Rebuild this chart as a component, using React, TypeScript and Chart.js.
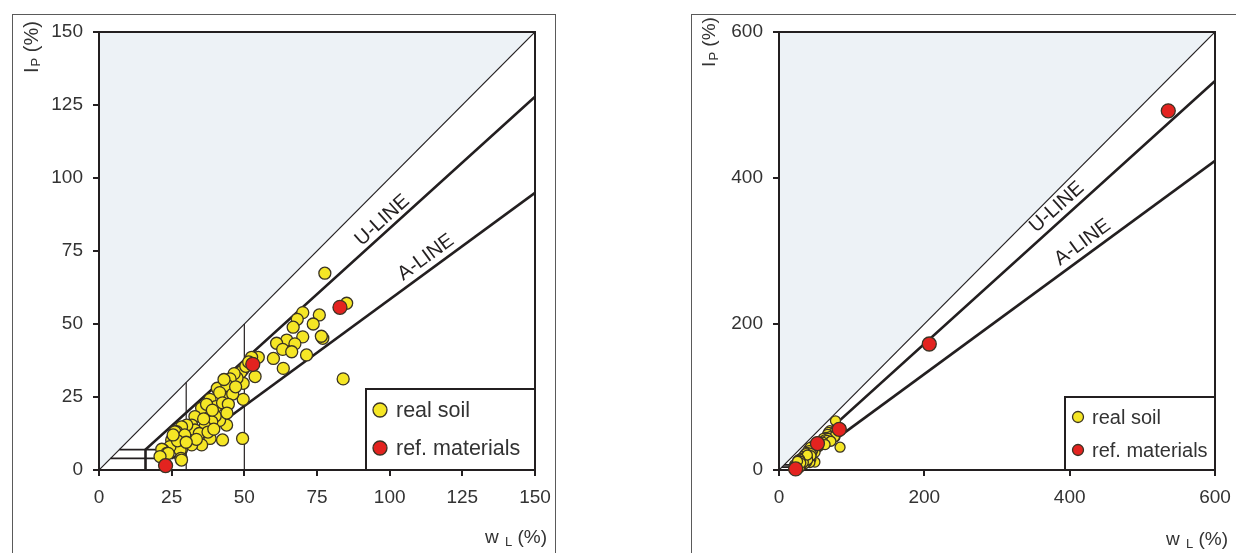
import React, { useEffect, useRef } from "react";
import { Chart, registerables } from "chart.js";

Chart.register(...registerables);

type Pt = [number, number];

// Liquid limit w_L (%) and plasticity index I_P (%) of the tested soils
const realSoil: Pt[] = [
  [77.7, 67.4], [85.2, 57.1], [70.1, 53.9], [75.8, 53.1], [68.2, 51.6], [73.7, 50.0],
  [66.8, 48.9], [70.1, 45.6], [77.0, 45.1], [76.5, 45.8], [64.6, 44.5], [61.1, 43.4],
  [67.4, 43.2], [63.2, 41.3], [66.3, 40.5], [71.4, 39.4], [60.0, 38.2], [63.4, 34.8],
  [84.0, 31.2],
  [54.8, 38.6], [52.5, 38.6], [53.7, 32.0], [49.4, 34.2], [48.8, 33.5], [50.5, 35.5],
  [51.5, 37.0], [49.6, 29.7], [49.6, 24.2], [49.4, 10.8], [47.5, 31.5], [46.5, 33.0],
  [45.1, 31.2], [45.1, 27.4], [40.7, 28.0], [42.8, 25.1], [44.0, 29.0], [46.0, 26.0],
  [47.0, 28.5], [43.0, 31.0], [41.5, 26.5], [38.2, 24.2], [40.2, 21.7], [42.5, 23.0],
  [44.5, 22.5], [43.9, 15.4], [42.5, 10.3], [41.5, 17.0], [40.0, 18.5], [44.0, 19.5],
  [35.6, 19.4], [35.3, 21.2], [37.0, 22.5], [38.8, 16.5], [36.5, 14.8], [38.2, 10.8],
  [35.3, 8.6], [33.0, 18.3], [31.9, 15.4], [33.0, 13.7], [34.5, 12.5], [31.9, 8.6],
  [30.2, 15.4], [36.0, 17.5], [37.5, 13.0], [39.5, 14.0], [33.5, 10.5], [39.0, 20.5],
  [28.4, 14.8], [26.7, 13.1], [26.1, 13.1], [28.4, 7.1], [27.9, 6.8], [28.2, 4.0],
  [28.4, 3.4], [25.0, 10.3], [24.4, 8.0], [22.1, 6.8], [21.6, 7.1], [23.3, 5.7],
  [23.8, 5.7], [21.0, 4.6], [29.5, 12.0], [27.0, 10.0], [30.0, 9.5], [25.5, 12.0],
];

// Reference materials
const refMaterials: Pt[] = [
  [22.9, 1.5], [52.9, 36.2], [82.9, 55.7], [206.8, 172.6], [535.7, 492.0],
];

const ticksLeft = [0, 25, 50, 75, 100, 125, 150];
const ticksRight = [0, 200, 400, 600];

// Classification lines (end points)
const equalLineLeft: Pt[] = [[0, 0], [150, 150]];
const equalLineRight: Pt[] = [[0, 0], [600, 600]];
const uLineLeft: Pt[] = [[16, 0], [16, 7], [150, 127.8]];
const uLineRight: Pt[] = [[16, 0], [16, 7], [600, 532.8]];
const aLineLeft: Pt[] = [[25.5, 4], [150, 94.9]];
const aLineRight: Pt[] = [[25.5, 4], [600, 423.4]];
const ip7Line: Pt[] = [[7, 7], [29.6, 7]];
const ip4Line: Pt[] = [[4, 4], [25.5, 4]];
const wl30Line: Pt[] = [[30, 0], [30, 30]];
const wl50Line: Pt[] = [[50, 0], [50, 50]];

const INK = "#231f20";
const TEXT = "#333333";
const YELLOW = "#f5e625";
const RED = "#e3231f";
const OUTLINE = "#3a3324";
const SHADE = "#edf2f6";
const FONT = "'Liberation Sans', Arial, Helvetica, sans-serif";

interface LineLabel { text: string; line: Pt[]; at: number; offset: number; size: number }
interface PanelSpec {
  max: number;
  ticks: number[];
  equal: Pt[];
  uLine: Pt[];
  aLine: Pt[];
  mediumGuides: Pt[][];
  thinGuides: Pt[][];
  soilRadius: number;
  refRadius: number;
  plotLeft: number;
  padRight: number;
  yTitle: { x: number; y: number; size: number };
  xTitle: { right: number; y: number; size: number };
  legend: { w: number; h: number; mx: number; my1: number; my2: number; tx: number; size: number; r: number };
  labels: LineLabel[];
}

const leftSpec: PanelSpec = {
  max: 150,
  ticks: ticksLeft,
  equal: equalLineLeft,
  uLine: uLineLeft,
  aLine: aLineLeft,
  mediumGuides: [ip7Line, ip4Line],
  thinGuides: [wl30Line, wl50Line],
  soilRadius: 6,
  refRadius: 7,
  plotLeft: 86,
  padRight: 20,
  yTitle: { x: 19, y: 32, size: 20 },
  xTitle: { right: 534, y: 523, size: 19 },
  legend: { w: 169, h: 81, mx: 14, my1: 21, my2: 59, tx: 30, size: 21.5, r: 7 },
  labels: [
    { text: "U-LINE", line: uLineLeft, at: 100, offset: 11, size: 20 },
    { text: "A-LINE", line: aLineLeft, at: 115, offset: 12.5, size: 20 },
  ],
};

const rightSpec: PanelSpec = {
  max: 600,
  ticks: ticksRight,
  equal: equalLineRight,
  uLine: uLineRight,
  aLine: aLineRight,
  mediumGuides: [ip7Line, ip4Line],
  thinGuides: [],
  soilRadius: 5,
  refRadius: 7,
  plotLeft: 87,
  padRight: 21,
  yTitle: { x: 18, y: 27, size: 19 },
  xTitle: { right: 536, y: 525, size: 19 },
  legend: { w: 150, h: 73, mx: 13, my1: 20, my2: 53, tx: 27, size: 20, r: 5.5 },
  labels: [
    { text: "U-LINE", line: uLineRight, at: 394, offset: 12.5, size: 20 },
    { text: "A-LINE", line: aLineRight, at: 428, offset: 12.5, size: 20 },
  ],
};

const toXY = (pts: Pt[]) => pts.map(([x, y]) => ({ x, y }));

function drawSubscripted(
  ctx: CanvasRenderingContext2D,
  base: string,
  sub: string,
  rest: string,
  size: number,
  startX: number,
  y: number
) {
  const subSize = Math.round(size * 0.66);
  ctx.font = `${size}px ${FONT}`;
  const wBase = ctx.measureText(base).width;
  ctx.fillText(base, startX, y);
  ctx.font = `${subSize}px ${FONT}`;
  const wSub = ctx.measureText(sub).width;
  ctx.fillText(sub, startX + wBase + 1, y + size * 0.22);
  ctx.font = `${size}px ${FONT}`;
  ctx.fillText(rest, startX + wBase + 1 + wSub, y);
}

function measureSubscripted(ctx: CanvasRenderingContext2D, base: string, sub: string, rest: string, size: number) {
  const subSize = Math.round(size * 0.66);
  ctx.font = `${size}px ${FONT}`;
  const a = ctx.measureText(base).width + ctx.measureText(rest).width;
  ctx.font = `${subSize}px ${FONT}`;
  return a + 1 + ctx.measureText(sub).width;
}

function buildConfig(spec: PanelSpec): any {
  const lineSet = (label: string, pts: Pt[], width: number, extra: any = {}) => ({
    label,
    data: toXY(pts),
    showLine: true,
    borderColor: INK,
    borderWidth: width,
    pointRadius: 0,
    pointHoverRadius: 0,
    tension: 0,
    fill: false,
    ...extra,
  });

  const datasets: any[] = [
    {
      label: "ref. materials",
      data: toXY(refMaterials.filter(([x, y]) => x <= spec.max && y <= spec.max)),
      backgroundColor: RED,
      borderColor: OUTLINE,
      borderWidth: 1.3,
      pointRadius: spec.refRadius,
      clip: false,
    },
    {
      label: "real soil",
      data: toXY(realSoil.filter(([x, y]) => x <= spec.max && y <= spec.max)),
      backgroundColor: YELLOW,
      borderColor: OUTLINE,
      borderWidth: 1.3,
      pointRadius: spec.soilRadius,
      clip: false,
    },
    lineSet("U-LINE", spec.uLine, 2.6),
    lineSet("A-LINE", spec.aLine, 2.6),
    ...spec.mediumGuides.map((g, i) => lineSet(`guide-m${i}`, g, 1.8)),
    ...spec.thinGuides.map((g, i) => lineSet(`guide-t${i}`, g, 1.2)),
    lineSet("wL = IP", spec.equal, 1.2, { fill: "end", backgroundColor: SHADE }),
  ];

  const tickFont = { family: FONT, size: 19 };

  const panelPlugin = {
    id: "panelDecor",
    beforeDatasetsDraw(chart: any) {
      const { ctx, chartArea: a } = chart;
      ctx.save();
      ctx.strokeStyle = INK;
      ctx.lineWidth = 2;
      ctx.beginPath();
      ctx.moveTo(a.left, a.top);
      ctx.lineTo(a.right, a.top);
      ctx.lineTo(a.right, a.bottom);
      ctx.stroke();
      ctx.restore();
    },
    afterDatasetsDraw(chart: any) {
      const { ctx, chartArea: a } = chart;
      const L = spec.legend;
      const x0 = a.right - L.w;
      const y0 = a.bottom - L.h;
      ctx.save();
      ctx.fillStyle = "#ffffff";
      ctx.fillRect(x0, y0, L.w, L.h);
      ctx.strokeStyle = INK;
      ctx.lineWidth = 2;
      ctx.strokeRect(x0, y0, L.w, L.h);
      const entries = ["real soil", "ref. materials"].map((lbl) =>
        chart.data.datasets.find((d: any) => d.label === lbl)
      );
      entries.forEach((ds: any, i: number) => {
        const cy = y0 + (i === 0 ? L.my1 : L.my2);
        ctx.beginPath();
        ctx.arc(x0 + L.mx, cy, L.r, 0, Math.PI * 2);
        ctx.fillStyle = ds.backgroundColor;
        ctx.fill();
        ctx.lineWidth = 1.3;
        ctx.strokeStyle = OUTLINE;
        ctx.stroke();
        ctx.fillStyle = TEXT;
        ctx.font = `${L.size}px ${FONT}`;
        ctx.textAlign = "left";
        ctx.textBaseline = "middle";
        ctx.fillText(ds.label, x0 + L.tx, cy + 1);
      });
      ctx.restore();
    },
    afterDraw(chart: any) {
      const { ctx } = chart;
      const xs = chart.scales.x;
      const ys = chart.scales.y;
      ctx.save();
      ctx.fillStyle = TEXT;
      ctx.textBaseline = "middle";
      ctx.textAlign = "left";

      // vertical axis title, I_P (%)
      const yt = spec.yTitle;
      const wY = measureSubscripted(ctx, "I", "P", " (%)", yt.size);
      ctx.save();
      ctx.translate(yt.x, yt.y);
      ctx.rotate(-Math.PI / 2);
      drawSubscripted(ctx, "I", "P", " (%)", yt.size, -wY / 2, 0);
      ctx.restore();

      // horizontal axis title, w_L (%)
      const xt = spec.xTitle;
      const wX = measureSubscripted(ctx, "w ", "L", " (%)", xt.size);
      drawSubscripted(ctx, "w ", "L", " (%)", xt.size, xt.right - wX, xt.y);

      // line names written along the lines
      ctx.fillStyle = INK;
      spec.labels.forEach((lab) => {
        const pts = lab.line;
        for (let i = 0; i < pts.length - 1; i++) {
          const [x0, y0] = pts[i];
          const [x1, y1] = pts[i + 1];
          if (x1 === x0 || lab.at < x0 || lab.at > x1) continue;
          const yAt = y0 + ((y1 - y0) * (lab.at - x0)) / (x1 - x0);
          const ang = Math.atan2(
            ys.getPixelForValue(y1) - ys.getPixelForValue(y0),
            xs.getPixelForValue(x1) - xs.getPixelForValue(x0)
          );
          const px = xs.getPixelForValue(lab.at) + Math.sin(ang) * lab.offset;
          const py = ys.getPixelForValue(yAt) - Math.cos(ang) * lab.offset;
          ctx.save();
          ctx.translate(px, py);
          ctx.rotate(ang);
          ctx.font = `${lab.size}px ${FONT}`;
          ctx.textAlign = "center";
          ctx.fillText(lab.text, 0, 0);
          ctx.restore();
          break;
        }
      });
      ctx.restore();
    },
  };

  return {
    type: "scatter",
    data: { datasets },
    plugins: [panelPlugin],
    options: {
      animation: false,
      responsive: false,
      devicePixelRatio: 1,
      events: [],
      layout: { padding: { left: 0, top: 17, right: spec.padRight, bottom: 0 } },
      plugins: {
        legend: { display: false },
        tooltip: { enabled: false },
        filler: { drawTime: "beforeDraw" },
      },
      scales: {
        x: {
          type: "linear",
          min: 0,
          max: spec.max,
          afterBuildTicks: (s: any) => {
            s.ticks = spec.ticks.map((value) => ({ value }));
          },
          afterFit: (s: any) => {
            s.height = 84;
            s.paddingLeft = 0;
            s.paddingRight = 0;
          },
          grid: { drawOnChartArea: false, drawTicks: true, tickLength: 6, color: INK, lineWidth: 2 },
          border: { display: true, color: INK, width: 2 },
          ticks: { color: TEXT, font: tickFont, padding: 10, maxRotation: 0, autoSkip: false },
        },
        y: {
          type: "linear",
          min: 0,
          max: spec.max,
          afterBuildTicks: (s: any) => {
            s.ticks = spec.ticks.map((value) => ({ value }));
          },
          afterFit: (s: any) => {
            s.width = spec.plotLeft;
            s.paddingTop = 0;
            s.paddingBottom = 0;
          },
          grid: { drawOnChartArea: false, drawTicks: true, tickLength: 6, color: INK, lineWidth: 2 },
          border: { display: true, color: INK, width: 2 },
          ticks: { color: TEXT, font: tickFont, padding: 10, autoSkip: false },
        },
      },
    },
  };
}

function Panel({ spec, left, width, rightBorder }: { spec: PanelSpec; left: number; width: number; rightBorder: boolean }) {
  const ref = useRef<HTMLCanvasElement>(null);
  useEffect(() => {
    if (!ref.current) return;
    const chart = new Chart(ref.current, buildConfig(spec));
    return () => chart.destroy();
  }, [spec]);
  const frame = "1px solid #5a5a5a";
  return (
    <div
      style={{
        position: "absolute",
        left,
        top: 14,
        width,
        height: 540,
        borderTop: frame,
        borderLeft: frame,
        borderRight: rightBorder ? frame : "none",
        background: "#ffffff",
      }}
    >
      <canvas ref={ref} width={width} height={539} style={{ display: "block", width, height: 539 }} />
    </div>
  );
}

export default function App() {
  return (
    <div
      style={{
        position: "fixed",
        left: 0,
        top: 0,
        width: 1236,
        height: 553,
        background: "#ffffff",
        overflow: "hidden",
      }}
    >
      <Panel spec={leftSpec} left={12} width={542} rightBorder={true} />
      <Panel spec={rightSpec} left={691} width={544} rightBorder={false} />
    </div>
  );
}
